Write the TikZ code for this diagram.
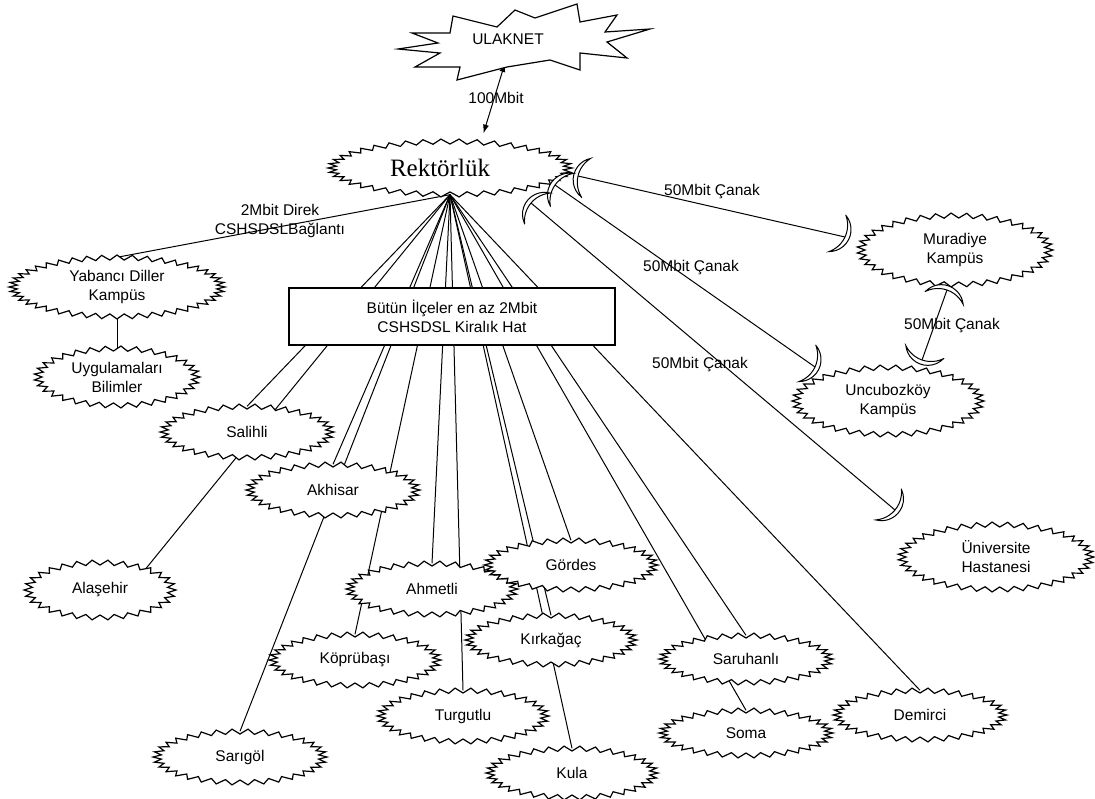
\documentclass[tikz,border=0pt]{standalone}
\usepackage{fontspec}
\setmainfont{Liberation Sans}
\newfontfamily\seriffont{Liberation Serif}
\usetikzlibrary{arrows.meta,backgrounds,shapes.geometric}
% #1 name, #2 cx, #3 cy, #4 outer half width, #5 outer half height, #6 vertex count, #7 text
\newcommand\zzbub[7]{%
  \draw[zz] ({#2+#4},{#3}) \foreach \k in {1,...,#6}{ -- ({#2+(#4-4+4*(1-2*mod(\k,2)))*cos(\k/#6*360)},{#3+(#5-2.5+2.5*(1-2*mod(\k,2)))*sin(\k/#6*360)})} -- cycle;
  \node[bub, minimum width={2*(#4-4)}, minimum height={2*(#5-2.5)}] (#1) at (#2,#3) {#7};
}
\begin{document}
\begin{tikzpicture}[x=1pt,y=1pt,
  zz/.style={draw=black, fill=white, line width=1.2pt, line join=miter},
  bub/.style={ellipse, inner sep=0pt, align=center, font=\fontsize{15.5}{19}\selectfont},
  conn/.style={line width=1pt},
  lbl/.style={font=\fontsize{15.5}{19}\selectfont, align=center, inner sep=0pt},
  dish/.pic={\draw[fill=white, line width=1pt] (-8.3,19.94) arc[start angle=65,end angle=-65,radius=22] arc[start angle=-45.2,end angle=45.2,radius=28.1] -- cycle;},
  dbl/.style={{Latex[length=9pt,width=6pt]}-{Latex[length=9pt,width=6pt]}, line width=1pt}]
\useasboundingbox (0,0) rectangle (1095,-798);

% ULAKNET
\draw[zz] (398,-49) -- (438,-43) -- (412,-33) -- (450,-33) -- (453,-16) -- (497,-27) -- (515,-10) -- (535,-18) -- (577,-4) -- (580,-22) -- (617,-15) -- (605,-32) -- (650,-29) -- (607,-42) -- (627,-58) -- (580,-53) -- (580,-70) -- (550,-60) -- (507,-67) -- (457,-80) -- (460,-67) -- (415,-67) -- (440,-53) -- cycle;
\node[lbl] (ulak) at (508,-39) {ULAKNET};
\coordinate (ulakb) at (505,-63);

% bubbles
\zzbub{rek}{450}{-168}{122}{29}{84}{\seriffont\fontsize{25}{30}\selectfont\hspace*{-20pt}Rektörlük}
\zzbub{yab}{117}{-287}{108}{32}{88}{Yabancı Diller\\Kampüs}
\zzbub{uyg}{117}{-377}{83}{31}{66}{Uygulamaları\\Bilimler}
\zzbub{sal}{247}{-432}{87}{28}{68}{Salihli}
\zzbub{akh}{333}{-490}{87}{28}{68}{Akhisar}
\zzbub{ala}{100}{-590}{76}{30}{60}{Alaşehir}
\zzbub{ahm}{432}{-589}{86}{28}{68}{Ahmetli}
\zzbub{gor}{571}{-565}{87}{27}{68}{Gördes}
\zzbub{kop}{355}{-660}{86}{28}{68}{Köprübaşı}
\zzbub{kir}{551}{-640}{86}{27}{68}{Kırkağaç}
\zzbub{tur}{463}{-716}{86}{28}{68}{Turgutlu}
\zzbub{sgl}{240}{-757}{87}{28}{68}{Sarıgöl}
\zzbub{kul}{572}{-773}{86}{27}{68}{Kula}
\zzbub{sru}{746}{-659}{87}{26}{68}{Saruhanlı}
\zzbub{som}{746}{-733}{87}{25}{68}{Soma}
\zzbub{dem}{920}{-715}{87}{27}{68}{Demirci}
\zzbub{uni}{996}{-557}{98}{35}{78}{Üniversite\\Hastanesi}
\zzbub{mur}{955}{-250}{98}{37}{78}{Muradiye\\Kampüs}
\zzbub{unc}{888}{-401}{96}{36}{76}{Uncubozköy\\Kampüs}

% box
\node[draw, fill=white, line width=1.2pt, minimum width=326pt, minimum height=57pt, inner sep=0pt, align=center, font=\fontsize{15.5}{19}\selectfont] (box) at (452,-316.5) {Bütün İlçeler en az 2Mbit\\CSHSDSL Kiralık Hat};

% dishes
\coordinate (d1) at (578,-176);
\coordinate (dm) at (845,-237);
\coordinate (d2) at (555,-185);
\coordinate (du) at (815,-367);
\coordinate (d3) at (531,-203);
\coordinate (dh) at (895,-510);
\coordinate (dmt) at (947,-290);
\coordinate (dub) at (922,-360);
\pic[rotate=167] at (d1) {dish};
\pic[rotate=-25] at (dm) {dish};
\pic[rotate=145] at (d2) {dish};
\pic[rotate=-25] at (du) {dish};
\pic[rotate=140] at (d3) {dish};
\pic[rotate=-40] at (dh) {dish};
\pic[rotate=71] at (dmt) {dish};
\pic[rotate=-109] at (dub) {dish};

% labels
\node[lbl] (l100) at (496,-98) {100Mbit};
\node[lbl] (l2m) at (280,-221) {2Mbit Direk\\CSHSDSLBağlantı};
\node[lbl] (l50a) at (712,-192) {50Mbit Çanak};
\node[lbl] (l50b) at (691,-268) {50Mbit Çanak};
\node[lbl] (l50c) at (700,-365) {50Mbit Çanak};
\node[lbl] (l50d) at (952,-326) {50Mbit Çanak};

\begin{scope}[on background layer]
\draw[dbl, shorten >=9pt] (ulakb) -- (rek.40);
\draw[conn] (rek.south) -- (yab.north);
\draw[conn] (yab.south) -- (uyg.north);
\foreach \t in {sal,akh,sgl,kop,ahm,tur,kir,kul,gor,sru,som,dem}
  \draw[conn] (rek.south) -- (\t.north);
\draw[conn] (rek.south) -- (ala.25);
\draw[conn] (d1) -- (dm);
\draw[conn] (d2) -- (du);
\draw[conn] (d3) -- (dh);
\draw[conn] (dmt) -- (dub);
\end{scope}
\end{tikzpicture}
\end{document}
